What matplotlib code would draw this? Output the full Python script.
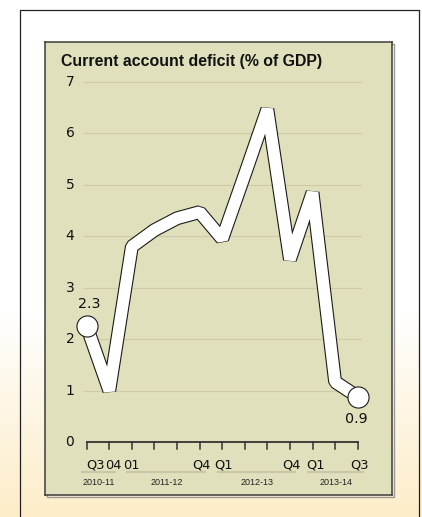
import numpy as np
import matplotlib
matplotlib.use('Agg')
import matplotlib.pyplot as plt
from matplotlib.patches import Rectangle

# quarterly current account deficit, % of GDP (Q3 2010-11 .. Q3 2013-14)
quarters = ["Q3", "Q4", "Q1", "Q2", "Q3", "Q4", "Q1", "Q2", "Q3", "Q4", "Q1", "Q2", "Q3"]
deficit = [2.25, 1.0, 3.8, 4.12, 4.35, 4.47, 3.95, 5.2, 6.47, 3.55, 4.85, 1.17, 0.88]
end_labels = ["2.3", "0.9"]

# which quarter labels are written under the axis (as printed in the original)
shown_idx = [0, 1, 2, 5, 6, 9, 10, 12]
shown_txt = ["Q3", "04", "01", "Q4", "Q1", "Q4", "Q1", "Q3"]
shown_shift = [0.41, 0.19, 0.0, 0.07, 0.08, 0.08, 0.12, 0.1]

years = ["2010-11", "2011-12", "2012-13", "2013-14"]
year_first = [0, 2, 6, 10]
year_last = [1, 5, 9, 12]

W, H = 422, 517
fig = plt.figure(figsize=(W / 100, H / 100), dpi=100)

# background: white fading to cream at the bottom
bg = fig.add_axes([0, 0, 1, 1])
bg.set_xlim(0, W)
bg.set_ylim(H, 0)
bg.axis('off')
top = np.array([1.0, 1.0, 1.0])
bot = np.array([253, 237, 200]) / 255
t = np.clip((np.arange(H) - 310) / (H - 310), 0, 1)
grad = top[None, :] * (1 - t[:, None]) + bot[None, :] * t[:, None]
bg.imshow(grad[:, None, :], extent=[0, W, H, 0], aspect='auto', interpolation='bilinear')
bg.plot([19.5, 19.5, 418.5, 418.5], [H, 9.5, 9.5, H], color='#222222', lw=0.9)
bg.add_patch(Rectangle((46.5, 43.5), 347, 453, fc='none', ec='#9a9a9a', lw=1.0))

# chart panel
ax = fig.add_axes([45 / W, (H - 495) / H, 347 / W, 453 / H])
ax.set_facecolor('#e1e0bc')
ax.set_xlim(-1.847, 13.52)
ax.set_ylim(-1.03, 7.777)
ax.set_xticks([])
ax.set_yticks([])
for s in ax.spines.values():
    s.set_color('#3c3c3c')
    s.set_linewidth(1.1)

x = np.arange(len(deficit))

# gridlines and y labels
for v in range(1, 8):
    ax.plot([-0.12, 12.15], [v, v], color='#cfcaa9', lw=0.8, zorder=1)
for v in range(0, 8):
    ax.text(-0.74, v, str(v), ha='center', va='center', fontsize=10, color='#111111')

# axis line with ticks
ax.plot([0, 12], [0, 0], color='#333333', lw=1.3, zorder=2)
for xi in x:
    ax.plot([xi, xi], [0, -0.14], color='#333333', lw=1.1, zorder=2)

for i, txt, sh in zip(shown_idx, shown_txt, shown_shift):
    ax.text(i + sh, -0.45, txt, ha='center', va='center', fontsize=9.4, color='#111111')

for name, a, b in zip(years, year_first, year_last):
    ax.plot([a - 0.25, b + 0.28], [-0.59, -0.59], color='#cbc6a6', lw=1.6, solid_capstyle='butt')
    ax.text((a + b) / 2 + 0.05, -0.78, name, ha='center', va='center', fontsize=6.5,
            family='Liberation Sans', color='#222222')

# the ribbon line
ax.plot(x, deficit, color='#1a1a1a', lw=10.0, solid_joinstyle='bevel', solid_capstyle='butt', zorder=3)
ax.plot(x, deficit, color='white', lw=8.4, solid_joinstyle='bevel', solid_capstyle='butt', zorder=4)
ax.plot([x[0], x[-1]], [deficit[0], deficit[-1]], 'o', ms=15.2, mfc='white', mec='#1a1a1a', mew=0.8, zorder=5)

ax.annotate(end_labels[0], (x[0], deficit[0]), xytext=(1.7, 16), textcoords='offset points',
            ha='center', va='center', fontsize=10.3, color='#111111')
ax.annotate(end_labels[1], (x[-1], deficit[-1]), xytext=(-0.7, -16), textcoords='offset points',
            ha='center', va='center', fontsize=10.3, color='#111111')

ax.text(-1.14, 7.395, "Current account deficit (% of GDP)", ha='left', va='center',
        fontsize=11.4, fontweight='bold', family='Liberation Sans', color='#111111')

fig.savefig('out.png', dpi=100)
